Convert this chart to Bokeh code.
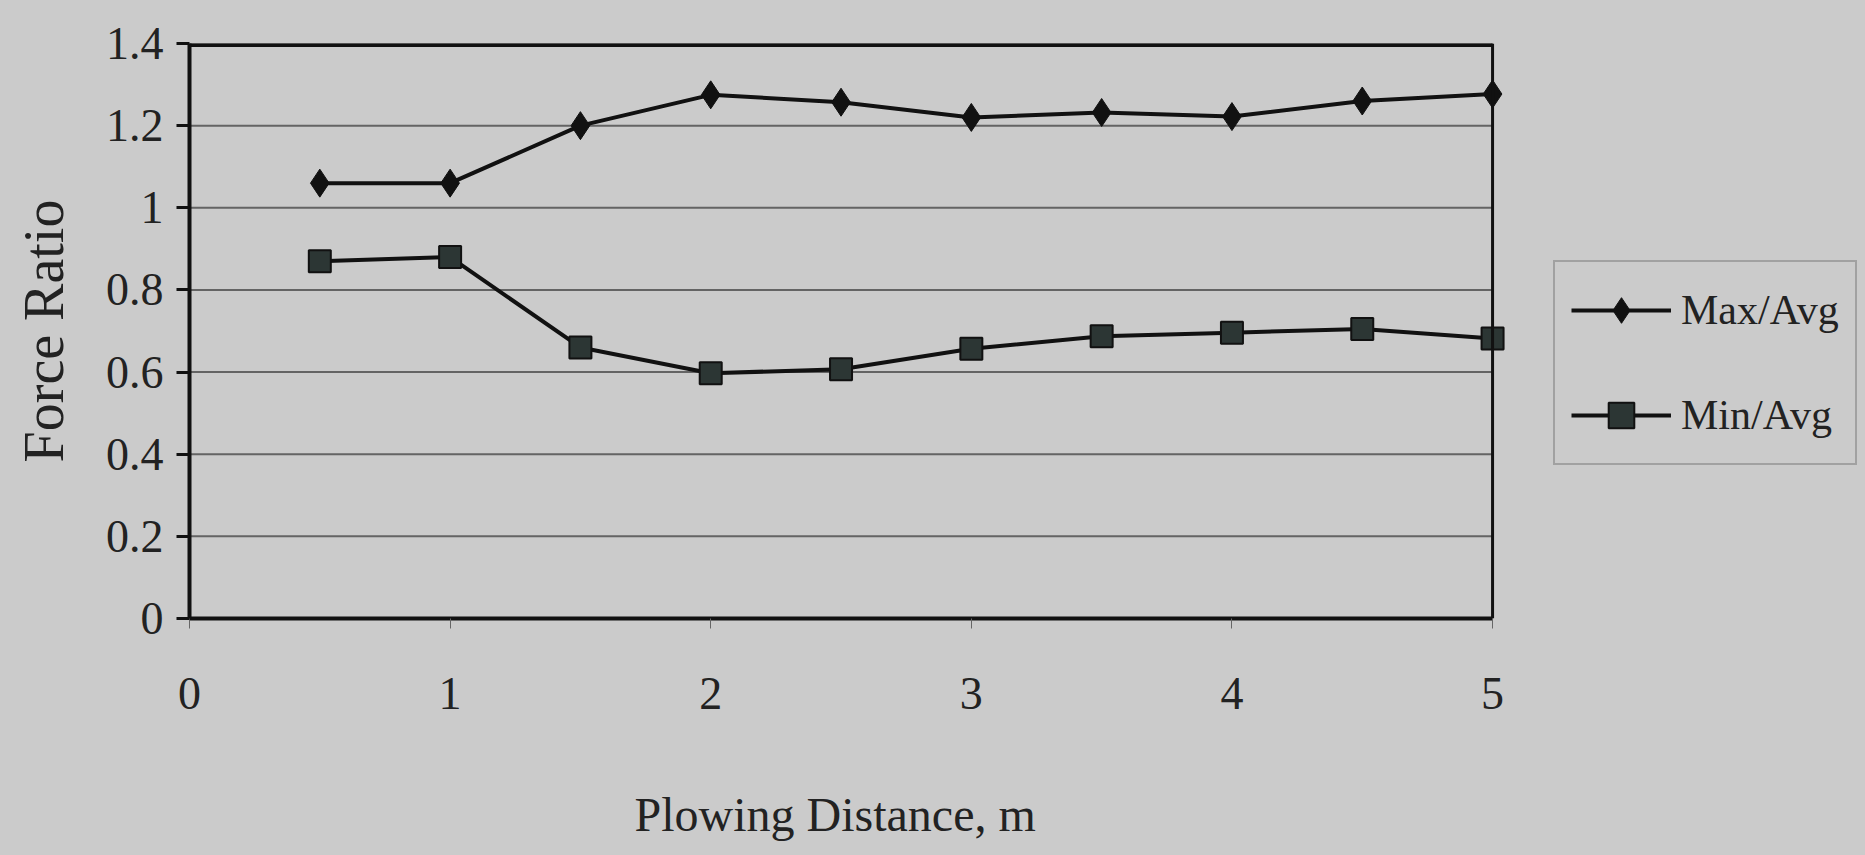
from bokeh.plotting import figure
from bokeh.models import FixedTicker, Legend, LegendItem, Span, Title
from bokeh.embed import file_html
from bokeh.resources import INLINE

distance = [0.5, 1.0, 1.5, 2.0, 2.5, 3.0, 3.5, 4.0, 4.5, 5.0]
max_avg = [1.06, 1.06, 1.20, 1.275, 1.257, 1.22, 1.232, 1.222, 1.26, 1.277]
min_avg = [0.87, 0.88, 0.66, 0.597, 0.607, 0.657, 0.687, 0.696, 0.705, 0.682]
x_ticks = [0, 1, 2, 3, 4, 5]
y_ticks = [0, 0.2, 0.4, 0.6, 0.8, 1.0, 1.2, 1.4]
y_tick_labels = ["0", "0.2", "0.4", "0.6", "0.8", "1", "1.2", "1.4"]
x_label = "Plowing Distance, m"
y_label = "Force Ratio"

BG = "#cbcbcb"
FONT = "Liberation Serif"
INK = "#111111"
X_MAX = x_ticks[-1]
Y_MAX = y_ticks[-1]

# The frame extends to the right edge so the legend can sit inside it;
# the visible plot box (borders, grid, axis) stops at x = 5.
p = figure(width=1865, height=855, output_backend="svg", toolbar_location=None,
           x_range=(0, 6.431), y_range=(0, Y_MAX),
           min_border_left=189, min_border_right=0, min_border_top=43, min_border_bottom=237)
p.background_fill_color = BG
p.border_fill_color = BG
p.styles = {"background-color": BG}
p.outline_line_color = None

p.xgrid.grid_line_color = None
p.ygrid.grid_line_color = None
p.segment(x0=[0] * len(y_ticks), x1=[X_MAX] * len(y_ticks), y0=y_ticks, y1=y_ticks,
          line_color="#4a4a4a", line_width=2, line_alpha=0.8)
p.segment(x0=[0], x1=[X_MAX], y0=[Y_MAX], y1=[Y_MAX], line_color=INK, line_width=7)
p.add_layout(Span(location=X_MAX, dimension="height", line_color=INK, line_width=3))

for ax in (p.xaxis[0], p.yaxis[0]):
    ax.axis_line_color = INK
    ax.axis_line_width = 4
    ax.major_tick_line_color = INK
    ax.major_tick_line_width = 3
    ax.minor_tick_line_color = None
    ax.major_tick_in = 0
    ax.major_label_text_font = FONT
    ax.major_label_text_font_size = "46px"
    ax.major_label_text_color = "#222222"
    ax.axis_label_text_font = FONT
    ax.axis_label_text_font_style = "normal"
    ax.axis_label_text_color = "#222222"

p.xaxis.bounds = (0, X_MAX)
p.xaxis.ticker = FixedTicker(ticks=x_ticks)
p.yaxis.ticker = FixedTicker(ticks=y_ticks)
p.yaxis.major_label_overrides = {v: s for v, s in zip(y_ticks, y_tick_labels)}
p.xaxis.major_tick_out = 10
p.xaxis.major_tick_line_width = 1
p.xaxis.major_tick_line_color = "#666666"
p.yaxis.major_tick_out = 13
p.yaxis.major_label_standoff = 13
p.xaxis.major_label_standoff = 49
p.yaxis.axis_label = y_label
p.yaxis.axis_label_text_font_size = "56px"
p.yaxis.axis_label_standoff = 28

# spacer panel below the axis, then the x-axis title centred under the plot box (0..5)
spacer = Title(text=" ", standoff=60, text_font_size="1px")
p.add_layout(spacer, "below")
xt = Title(text=x_label, align="left", offset=445, standoff=23,
           text_font=FONT, text_font_size="48px", text_font_style="normal",
           text_color="#222222")
p.add_layout(xt, "below")

l1 = p.line(distance, max_avg, line_color=INK, line_width=4)
m1 = p.scatter(distance, max_avg, marker="diamond", size=28, fill_color=INK, line_color=INK)
l2 = p.line(distance, min_avg, line_color=INK, line_width=4)
m2 = p.scatter(distance, min_avg, marker="square", size=22, fill_color="#2c3634",
               line_color=INK, line_width=2)

legend = Legend(items=[LegendItem(label="Max/Avg", renderers=[l1, m1]),
                       LegendItem(label="Min/Avg", renderers=[l2, m2])],
                location=(1364, 153))
legend.label_text_font = FONT
legend.label_text_font_size = "42px"
legend.label_text_color = "#222222"
legend.glyph_width = 100
legend.glyph_height = 64
legend.spacing = 41
legend.padding = 16
legend.margin = 0
legend.label_standoff = 10
legend.border_line_color = "#777777"
legend.border_line_width = 2
legend.background_fill_alpha = 0
p.add_layout(legend, "center")

open("out.html", "w").write(file_html(p, INLINE))
